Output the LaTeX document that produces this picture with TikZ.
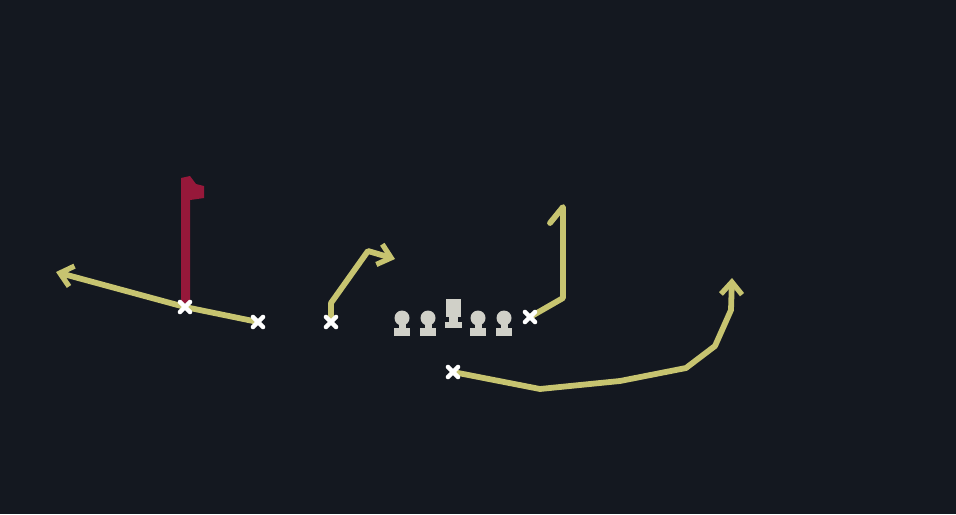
\documentclass[tikz,border=0pt]{standalone}
\usepackage{tikz}
\usetikzlibrary{arrows,arrows.meta,calc,positioning}
\definecolor{feld}{RGB}{20,24,32}
\definecolor{route}{RGB}{199,196,112}
\definecolor{fahne}{RGB}{150,24,58}
\definecolor{linie}{RGB}{208,208,200}
\tikzset{
  laufweg/.style={route,line width=3.3pt,line join=round,line cap=round},
  pfeil/.style={-{Straight Barb[length=7pt,width=12pt,line width=3pt]}},
  spieler/.style={white,line width=2.6pt,line cap=round},
}
\begin{document}
\begin{tikzpicture}[x=0.02cm,y=-0.02cm]
% Hintergrund in Pixelmassen des Bildes
\fill[feld] (0,0) rectangle (956,514);
% Positionen der Spieler (X)
\coordinate (WR) at (185,307);
\coordinate (SL) at (258,322);
\coordinate (TE) at (331,322);
\coordinate (RT) at (530,317);
\coordinate (RB) at (453,372);
% Fahne
\fill[fahne] (181,303) -- (181,178) -- (190,176) -- (196,184) -- (204,186) -- (204,198) -- (190,200) -- (190,303) -- cycle;
% Laufwege
\draw[laufweg,pfeil] (SL) -- (WR) -- (56,272);
\draw[laufweg,pfeil] (TE) -- (331,303) -- (368,251) -- (395,259);
\draw[laufweg] (RT) -- (563,298) -- (563,207) -- (550,223);
\draw[laufweg,pfeil] (RB) -- (540,389) -- (620,381) -- (686,368) -- (715,346) -- (731,310) -- (732,278);
% Spieler als X
\foreach \p in {WR,SL,TE,RT,RB}{
  \draw[spieler] ($(\p)+(-5,-5)$) -- ($(\p)+(5,5)$);
  \draw[spieler] ($(\p)+(-5,5)$) -- ($(\p)+(5,-5)$);
}
% Linemen
\foreach \x in {402,428,478,504}{
  \fill[linie] (\x,318) circle (7.5);
  \fill[linie] (\x-3.5,322) rectangle (\x+3.5,330);
  \fill[linie] (\x-8,328) rectangle (\x+8,336);
}
% Center
\fill[linie] (446,299) rectangle (461,317);
\fill[linie] (449,316) rectangle (458,323);
\fill[linie] (445,322) rectangle (462,328);
\end{tikzpicture}
\end{document}
